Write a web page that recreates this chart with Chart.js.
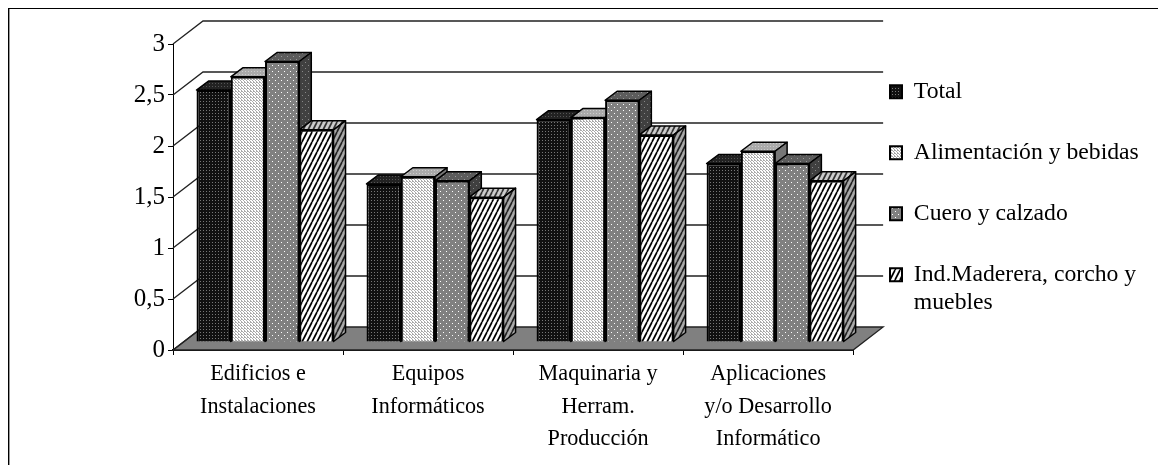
<!DOCTYPE html>
<html>
<head>
<meta charset="utf-8">
<style>
  html, body { margin: 0; background: #fff; overflow: hidden; }
  #frame { position: absolute; left: 8px; top: 8px; right: 0; bottom: 0; border-left: 1px solid #000; border-top: 1px solid #000; box-shadow: inset 1px 0 0 #999; }
  #chart { position: absolute; left: 0; top: 0; }
</style>
<script src="https://cdn.jsdelivr.net/npm/chart.js@4"></script>
</head>
<body>
<div id="frame"></div>
<canvas id="chart" width="1158" height="465"></canvas>
<script>
const categories = [
    ['Edificios e', 'Instalaciones'],
    ['Equipos', 'Informáticos'],
    ['Maquinaria y', 'Herram.', 'Producción'],
    ['Aplicaciones', 'y/o Desarrollo', 'Informático']
];
const seriesNames = ['Total', 'Alimentación y bebidas', 'Cuero y calzado', ['Ind.Maderera, corcho y', 'muebles']];
const totalValues = [2.47, 1.55, 2.18, 1.75];
const alimentacionValues = [2.6, 1.62, 2.2, 1.87];
const cueroValues = [2.75, 1.58, 2.37, 1.75];
const maderaValues = [2.08, 1.42, 2.03, 1.58];
const yTickLabels = ['0', '0,5', '1', '1,5', '2', '2,5', '3'];

// profundidad del efecto 3D (px)
const WALL_DX = 30, WALL_DY = 23;
const BAR_DX = 12, BAR_DY = 9;
const BAR_SHIFT_X = 7, BAR_SHIFT_Y = 8;
const LEGEND_PADDING = 37.3;

function dots(bg, dot, w, h, points) {
    const c = document.createElement('canvas');
    c.width = w; c.height = h;
    const g = c.getContext('2d');
    g.fillStyle = bg;
    g.fillRect(0, 0, w, h);
    g.fillStyle = dot;
    points.forEach(p => g.fillRect(p[0], p[1], p[2] || 1, p[3] || 1));
    return g.createPattern(c, 'repeat');
}

function stripes(bg, fg, w, h, width) {
    const c = document.createElement('canvas');
    c.width = w; c.height = h;
    const g = c.getContext('2d');
    g.fillStyle = bg;
    g.fillRect(0, 0, w, h);
    g.strokeStyle = fg;
    g.lineWidth = width;
    for (let i = -w; i <= w * 2; i += w) {
        g.beginPath();
        g.moveTo(i, h);
        g.lineTo(i + w, 0);
        g.stroke();
    }
    return g.createPattern(c, 'repeat');
}

const styles = [
    { front: dots('#111', '#777', 3, 3, [[1, 1]]), top: dots('#222', '#555', 3, 3, [[1, 1]]), side: '#000' },
    { front: dots('#fff', '#aaa', 3, 3, [[0, 0, 2, 1], [0, 2, 1, 1], [2, 1, 1, 1]]), top: dots('#aaa', '#ccc', 3, 3, [[1, 1]]), side: '#777' },
    { front: dots('#808080', '#fff', 6, 6, [[1, 1], [4, 4]]), top: dots('#5c5c5c', '#999', 6, 6, [[1, 1], [4, 4]]), side: dots('#404040', '#888', 6, 6, [[1, 1], [4, 4]]) },
    { front: stripes('#fff', '#000', 5, 10, 1.7), top: stripes('#ccc', '#333', 5, 10, 1.7), side: stripes('#aaa', '#222', 5, 10, 1.7) }
];

const seriesValues = [totalValues, alimentacionValues, cueroValues, maderaValues];

function drawBarBody(ctx, bar, st) {
    const l = bar.x - bar.width / 2, r = bar.x + bar.width / 2;
    ctx.fillStyle = st.top;
    ctx.beginPath();
    ctx.moveTo(l, bar.y);
    ctx.lineTo(l + BAR_DX, bar.y - BAR_DY);
    ctx.lineTo(r + BAR_DX, bar.y - BAR_DY);
    ctx.lineTo(r, bar.y);
    ctx.closePath();
    ctx.fill();
    ctx.stroke();
    ctx.fillStyle = st.side;
    ctx.beginPath();
    ctx.moveTo(r, bar.y);
    ctx.lineTo(r + BAR_DX, bar.y - BAR_DY);
    ctx.lineTo(r + BAR_DX, bar.base - BAR_DY);
    ctx.lineTo(r, bar.base);
    ctx.closePath();
    ctx.fill();
    ctx.stroke();
}

// paredes, suelo y cuerpo 3D de las barras
const depthPlugin = {
    id: 'depth',
    afterLayout(chart) {
        const lg = chart.legend;
        lg.left = 890 - LEGEND_PADDING;
        lg.top = 42.5;
        lg.right = 1158;
        lg.bottom = 460;
        lg.width = lg.right - lg.left;
        lg.height = lg.bottom - lg.top;
    },
    beforeDatasetsDraw(chart) {
        const { ctx, scales: { x, y } } = chart;
        const y0 = y.getPixelForValue(0);
        ctx.save();
        ctx.fillStyle = '#808080';
        ctx.beginPath();
        ctx.moveTo(x.left, y0);
        ctx.lineTo(x.left + WALL_DX, y0 - WALL_DY);
        ctx.lineTo(x.right + WALL_DX, y0 - WALL_DY);
        ctx.lineTo(x.right, y0);
        ctx.closePath();
        ctx.fill();
        ctx.strokeStyle = '#222';
        ctx.lineWidth = 1.3;
        ctx.stroke();
        y.ticks.forEach(t => {
            const py = y.getPixelForValue(t.value);
            ctx.beginPath();
            ctx.moveTo(x.left, py);
            ctx.lineTo(x.left + WALL_DX, py - WALL_DY);
            if (t.value > 0) ctx.lineTo(x.right + WALL_DX, py - WALL_DY);
            ctx.stroke();
        });
        // techo y lateral de cada barra, de izquierda a derecha
        ctx.translate(BAR_SHIFT_X, -BAR_SHIFT_Y);
        ctx.strokeStyle = '#000';
        ctx.lineWidth = 1.5;
        ctx.lineJoin = 'round';
        seriesValues.forEach((values, i) => {
            chart.getDatasetMeta(i).data.forEach(bar => drawBarBody(ctx, bar, styles[i]));
        });
        ctx.restore();
    },
    beforeDatasetDraw(chart) {
        chart.ctx.save();
        chart.ctx.translate(BAR_SHIFT_X, -BAR_SHIFT_Y);
    },
    afterDatasetDraw(chart) {
        chart.ctx.restore();
    }
};

const chart = new Chart(document.getElementById('chart'), {
    type: 'bar',
    data: {
        labels: categories,
        datasets: seriesValues.map((values, i) => ({
            label: seriesNames[i],
            data: values,
            backgroundColor: styles[i].front,
            borderColor: '#000',
            borderWidth: 2,
            categoryPercentage: 0.806,
            barPercentage: 1,
            clip: false
        }))
    },
    options: {
        responsive: false,
        animation: false,
        layout: { padding: { top: 44, left: 0, right: 20, bottom: 0 } },
        plugins: {
            tooltip: { enabled: false },
            legend: {
                position: 'right',
                align: 'start',
                labels: {
                    color: '#000',
                    boxWidth: 12,
                    boxHeight: 13,
                    padding: LEGEND_PADDING,
                    font: { family: 'Liberation Serif', size: 23.7, lineHeight: 1.18 }
                }
            }
        },
        scales: {
            x: {
                afterFit(s) { s.height = 115; },
                grid: { drawOnChartArea: false, color: '#000', tickLength: 5, offset: true },
                border: { color: '#000', width: 2 },
                ticks: {
                    color: '#000',
                    maxRotation: 0,
                    autoSkip: false,
                    padding: 3,
                    font: { family: 'Liberation Serif', size: 22.2, lineHeight: 1.47 }
                }
            },
            y: {
                min: 0,
                max: 3,
                afterFit(s) { s.width = 173; },
                grid: { drawOnChartArea: false, color: '#000', tickLength: 5 },
                border: { color: '#000', width: 1 },
                ticks: {
                    stepSize: 0.5,
                    color: '#000',
                    padding: 3,
                    font: { family: 'Liberation Serif', size: 25 },
                    callback: (v, i) => yTickLabels[i]
                }
            }
        }
    },
    plugins: [depthPlugin]
});

// ajustar el ancho reservado a la leyenda para que el eje termine en 853
chart.options.layout.padding.right += chart.chartArea.right - 853;
chart.update();
</script>
</body>
</html>
